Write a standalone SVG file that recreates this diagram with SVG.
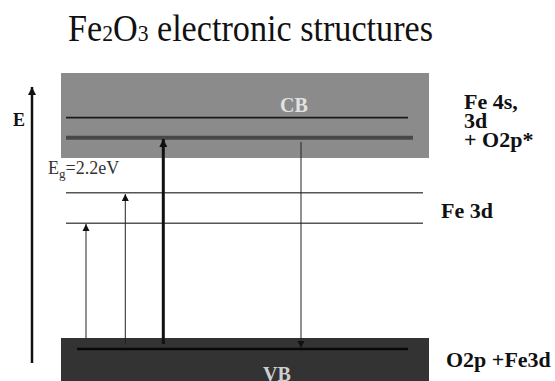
<svg xmlns="http://www.w3.org/2000/svg" width="555" height="381" viewBox="0 0 555 381">
  <style>
    .lvl { stroke: #555; stroke-width: 1.6; fill: none; }
    .thin { stroke: #222; stroke-width: 1; fill: none; }
  </style>
  <defs>
    <marker id="hSmall" markerUnits="userSpaceOnUse" markerWidth="8" markerHeight="8" viewBox="0 0 8 8" refX="4" refY="0" orient="0">
      <path d="M0.5,7 L4,0 L7.5,7 Z" fill="#111"/>
    </marker>
    <marker id="hSmallDown" markerUnits="userSpaceOnUse" markerWidth="8" markerHeight="8" viewBox="0 0 8 8" refX="4" refY="7" orient="0">
      <path d="M0.5,0 L7.5,0 L4,7 Z" fill="#111"/>
    </marker>
    <marker id="hBig" markerUnits="userSpaceOnUse" markerWidth="10" markerHeight="10" viewBox="0 0 10 10" refX="5" refY="0" orient="0">
      <path d="M1,8 L5,0 L9,8 Z" fill="#111"/>
    </marker>
  </defs>
  <rect width="555" height="381" fill="#ffffff"/>

  <g font-family="'Liberation Serif', 'Times New Roman', serif">
    <g id="title">
      <text x="68" y="41" font-size="38" fill="#111" textLength="365" lengthAdjust="spacingAndGlyphs">Fe<tspan font-size="24">2</tspan>O<tspan font-size="24">3</tspan> electronic structures</text>
    </g>

    <g id="energy-axis">
      <line x1="32" y1="363" x2="32" y2="87" stroke="#111" stroke-width="2.5" marker-end="url(#hBig)"/>
      <text x="13" y="126" font-size="18" font-weight="bold" fill="#111">E</text>
    </g>

    <g id="conduction-band">
      <rect x="61" y="73" width="368" height="85" fill="#8b8b8b"/>
      <line x1="66" y1="117.7" x2="408" y2="117.7" stroke="#1a1a1a" stroke-width="1.8"/>
      <line x1="66" y1="137.7" x2="413" y2="137.7" stroke="#484848" stroke-width="4"/>
      <text x="280" y="112" font-size="20" font-weight="bold" fill="#e2e2e2">CB</text>
    </g>

    <g id="cb-label" font-size="22" font-weight="bold" fill="#111">
      <text x="464" y="109">Fe 4s,</text>
      <text x="464" y="128">3d</text>
      <text x="464" y="147">+ O2p*</text>
    </g>

    <g id="gap-label">
      <text x="48" y="174" font-size="18" fill="#333">E<tspan font-size="13" dy="4">g</tspan><tspan dy="-4">=2.2eV</tspan></text>
    </g>

    <g id="fe3d-levels">
      <line class="lvl" x1="66" y1="192.7" x2="423" y2="192.7"/>
      <line class="lvl" x1="66" y1="223.3" x2="423" y2="223.3"/>
      <text x="441" y="218" font-size="22" font-weight="bold" fill="#111">Fe 3d</text>
    </g>

    <g id="valence-band">
      <rect x="61" y="338" width="368" height="43" fill="#333333"/>
      <line x1="77" y1="349" x2="408" y2="349" stroke="#080808" stroke-width="2.5"/>
      <text x="263" y="381" font-size="20" font-weight="bold" fill="#cfcfcf">VB</text>
      <text x="446" y="367" font-size="22" font-weight="bold" fill="#111">O2p +Fe3d</text>
    </g>
  </g>

  <g id="connectors">
    <line class="thin" x1="86" y1="338" x2="86" y2="224" marker-end="url(#hSmall)"/>
    <line class="thin" x1="125.3" y1="345" x2="125.3" y2="194" marker-end="url(#hSmall)"/>
    <line x1="163.3" y1="344" x2="163.3" y2="139" stroke="#111" stroke-width="3" marker-end="url(#hBig)"/>
    <line class="thin" x1="301" y1="142" x2="301" y2="348" marker-end="url(#hSmallDown)"/>
  </g>
</svg>
